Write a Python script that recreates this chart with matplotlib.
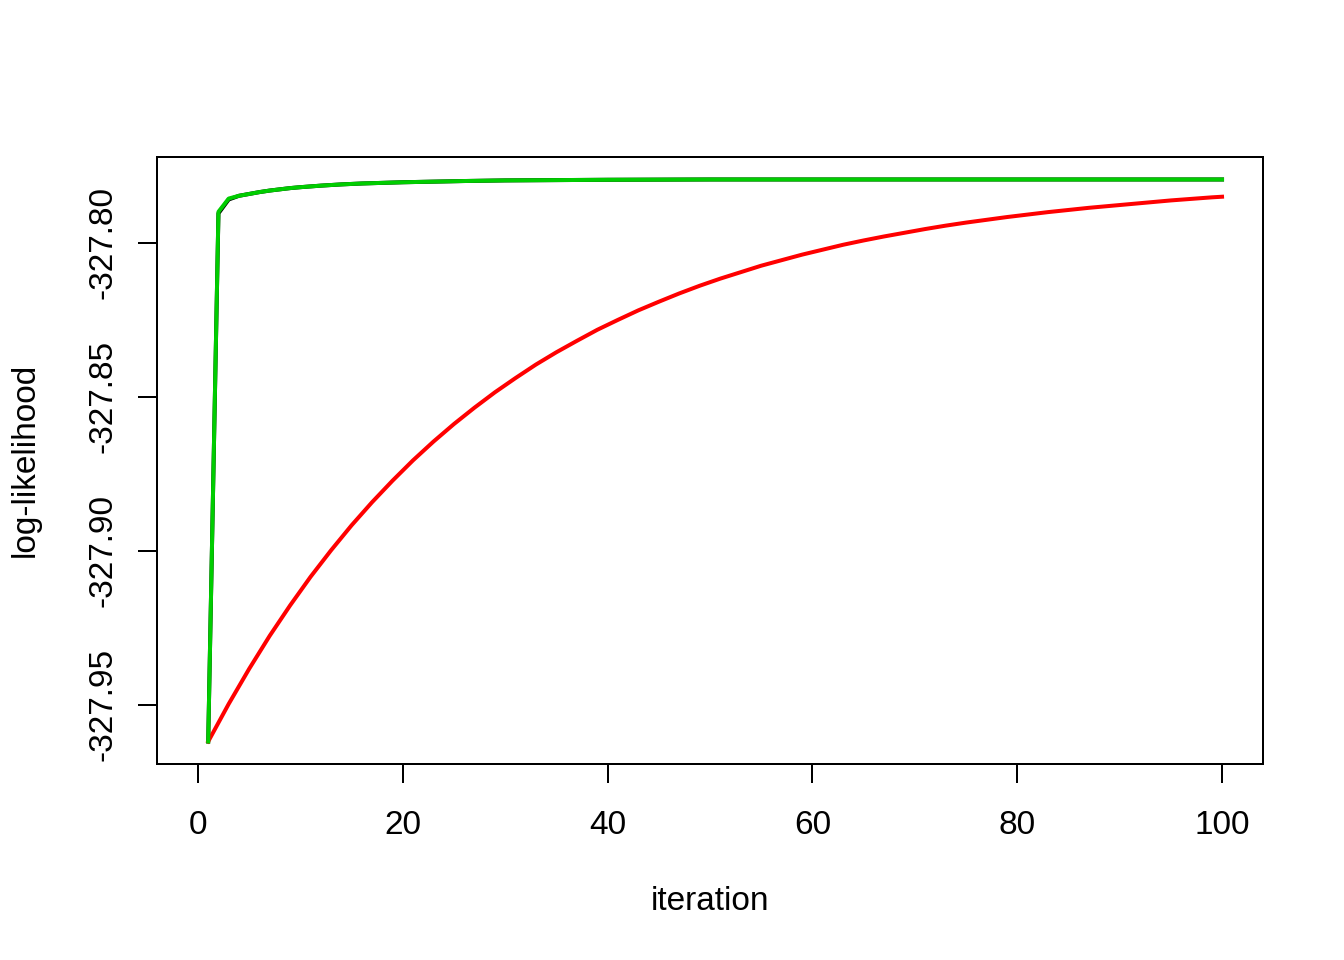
import matplotlib
matplotlib.use("Agg")
import matplotlib.pyplot as plt

# log-likelihood by iteration
red_iter = [1, 3, 5, 7, 9, 11, 13, 15, 17, 19, 21, 23, 25, 27, 29, 31, 33,
            35, 37, 39, 41, 43, 45, 47, 49, 51, 53, 55, 57, 59, 61, 63, 65,
            67, 69, 71, 73, 75, 77, 79, 81, 83, 85, 87, 89, 91, 93, 95, 97,
            99, 100]
red_ll = [-327.9620, -327.9498, -327.9384, -327.9277, -327.9178, -327.9085,
          -327.8999, -327.8918, -327.8843, -327.8773, -327.8707, -327.8646,
          -327.8589, -327.8536, -327.8486, -327.8440, -327.8396, -327.8356,
          -327.8319, -327.8283, -327.8251, -327.8220, -327.8192, -327.8165,
          -327.8140, -327.8117, -327.8096, -327.8075, -327.8057, -327.8039,
          -327.8023, -327.8007, -327.7993, -327.7980, -327.7968, -327.7956,
          -327.7945, -327.7935, -327.7926, -327.7917, -327.7909, -327.7901,
          -327.7894, -327.7887, -327.7881, -327.7875, -327.7869, -327.7863,
          -327.7858, -327.7853, -327.7851]

fast_iter = [1, 2, 3, 4, 5, 6, 7, 8, 9, 10, 12, 14, 16, 18, 20, 23, 26, 30,
             35, 40, 50, 60, 100]
black_ll = [-327.9620, -327.7905, -327.7860, -327.7848, -327.7842, -327.7836,
            -327.7831, -327.7827, -327.7823, -327.7820, -327.7815, -327.7811,
            -327.7808, -327.7806, -327.7804, -327.7802, -327.7800, -327.7798,
            -327.7797, -327.7796, -327.7795, -327.7795, -327.7795]
green_ll = [-327.9620, -327.7900, -327.7857, -327.7848, -327.7842, -327.7836,
            -327.7831, -327.7827, -327.7823, -327.7820, -327.7815, -327.7811,
            -327.7808, -327.7806, -327.7804, -327.7802, -327.7800, -327.7798,
            -327.7797, -327.7796, -327.7795, -327.7795, -327.7795]

x_ticks = [0, 20, 40, 60, 80, 100]
y_ticks = [-327.95, -327.90, -327.85, -327.80]

plt.rcParams.update({
    "font.family": ["Liberation Sans", "DejaVu Sans"],
    "font.size": 12.5,
})

fig = plt.figure(figsize=(7, 5), dpi=192)
ax = fig.add_axes([157 / 1344, 1 - 764 / 960, (1263 - 157) / 1344, (764 - 157) / 960])

ax.plot(fast_iter, black_ll, color="black", lw=1.5)
ax.plot(red_iter, red_ll, color="#FF0000", lw=1.5)
ax.plot(fast_iter, green_ll, color="#00CD00", lw=1.5)

ax.set_xlim(-4, 104)
ax.set_ylim(-327.9693, -327.7722)
ax.set_xticks(x_ticks)
ax.set_xticklabels([str(v) for v in x_ticks])
ax.set_yticks(y_ticks)
ax.set_yticklabels([f"{v:.2f}" for v in y_ticks], rotation=90, va="center")
ax.tick_params(axis="x", length=7.1, width=0.75, pad=10)
ax.tick_params(axis="y", length=7.1, width=0.75, pad=7.5)
for s in ax.spines.values():
    s.set_linewidth(0.75)

fig.text(710 / 1344, 1 - 902 / 960, "iteration", ha="center", va="center")
fig.text(25 / 1344, 1 - 460 / 960, "log-likelihood", ha="center", va="center",
         rotation=90)

fig.savefig("out.png", dpi=192)
